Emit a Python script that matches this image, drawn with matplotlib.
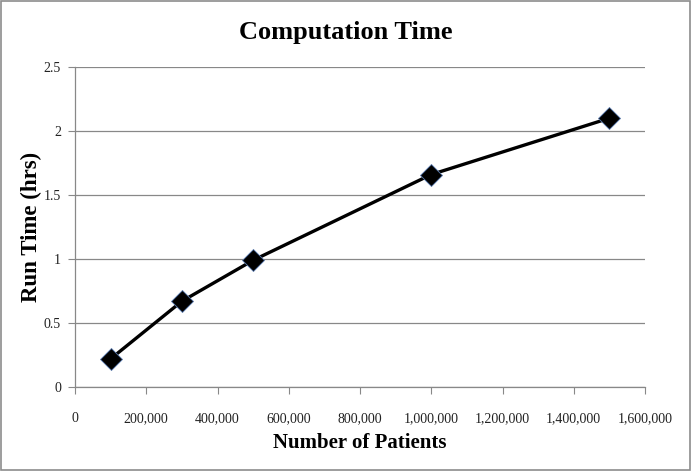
import matplotlib.pyplot as plt
import matplotlib.ticker as mtick
from matplotlib.patches import Rectangle

# data
patients = [100000, 300000, 500000, 1000000, 1500000]
run_hours = [0.22, 0.67, 0.99, 1.66, 2.10]

x_ticks = [0, 200000, 400000, 600000, 800000, 1000000, 1200000, 1400000, 1600000]
y_ticks = [0, 0.5, 1, 1.5, 2, 2.5]

plt.rcParams['font.family'] = ['Liberation Serif', 'DejaVu Serif']

fig = plt.figure(figsize=(6.91, 4.71), dpi=100)
ax = fig.add_axes([75 / 691, 1 - 387 / 471, 570 / 691, 320 / 471])

grid_c = '#888888'
ax.plot(patients, run_hours, color='black', lw=2.4, marker='D', markersize=11,
        markerfacecolor='black', markeredgecolor='#5a7bb0', markeredgewidth=0.6,
        zorder=3)

ax.set_xlim(0, 1600000)
ax.set_ylim(0, 2.5)
ax.set_xticks(x_ticks)
ax.set_yticks(y_ticks)
ax.xaxis.set_major_formatter(mtick.FuncFormatter(lambda v, p: f'{int(v):,}'))
ax.yaxis.set_major_formatter(mtick.FuncFormatter(lambda v, p: f'{v:g}'))
ax.tick_params(axis='both', direction='out', length=5, color=grid_c, labelsize=10,
               labelcolor='#222222')
ax.tick_params(axis='x', pad=13)
ax.tick_params(axis='y', pad=5)

ax.grid(axis='y', color=grid_c, lw=0.9)
ax.set_axisbelow(True)
for s in ['top', 'right']:
    ax.spines[s].set_visible(False)
for s in ['left', 'bottom']:
    ax.spines[s].set_color(grid_c)
    ax.spines[s].set_linewidth(0.9)

ax.set_xlabel('Number of Patients', fontsize=15, fontweight='bold', labelpad=6)
ax.set_ylabel('Run Time (hrs)', fontsize=16.5, fontweight='bold', va='center')
ax.yaxis.set_label_coords(-44 / 570, 0.5)
fig.text(346 / 691, 1 - 33 / 471, 'Computation Time', ha='center', va='center',
         fontsize=19, fontweight='bold')

# outer chart border
fig.patches.append(Rectangle((0.001, 0.002), 0.997, 0.996, transform=fig.transFigure,
                             fill=False, edgecolor='#8c8c8c', lw=1.2))

plt.savefig('out.png', dpi=100)
